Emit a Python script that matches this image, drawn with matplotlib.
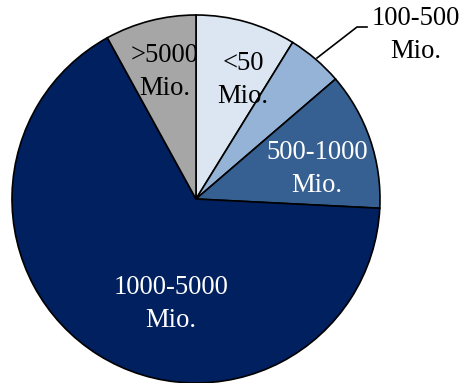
import matplotlib.pyplot as plt

# revenue classes and shares (%), clockwise from 12 o'clock
labels = ['<50\nMio.', '100-500\nMio.', '500-1000\nMio.', '1000-5000\nMio.', '>5000\nMio.']
shares = [8.8, 4.9, 12.1, 66.2, 8.0]
colors = ['#DCE6F2', '#95B3D7', '#376092', '#002060', '#A6A6A6']
text_colors = ['black', 'black', 'white', 'white', 'black']

plt.rcParams['font.family'] = ['Liberation Serif', 'DejaVu Serif']

fig = plt.figure(figsize=(4.63, 3.83), dpi=100)
ax = fig.add_axes([0, 0, 1, 1])

wedges, _ = ax.pie(shares, colors=colors, startangle=90, counterclock=False,
                   center=(196, 184), radius=184, frame=True,
                   wedgeprops=dict(edgecolor='black', linewidth=1.2))
ax.set_xlim(0, 463)
ax.set_ylim(0, 383)
ax.set_aspect('equal')
ax.axis('off')

# label positions (pixel-ish coordinates, y up)
pos = [(243, 303), (416, 348), (317, 214), (171, 79), (165, 311)]
for i, (x, y) in enumerate(pos):
    ax.text(x, y, labels[i], color=text_colors[i], fontsize=19.2,
            ha='center', va='center', linespacing=1.4)

# leader line for the small slice
ax.plot([317, 357, 367], [325, 356, 356], color='black', lw=1.2)

fig.savefig('out.png', dpi=100)
